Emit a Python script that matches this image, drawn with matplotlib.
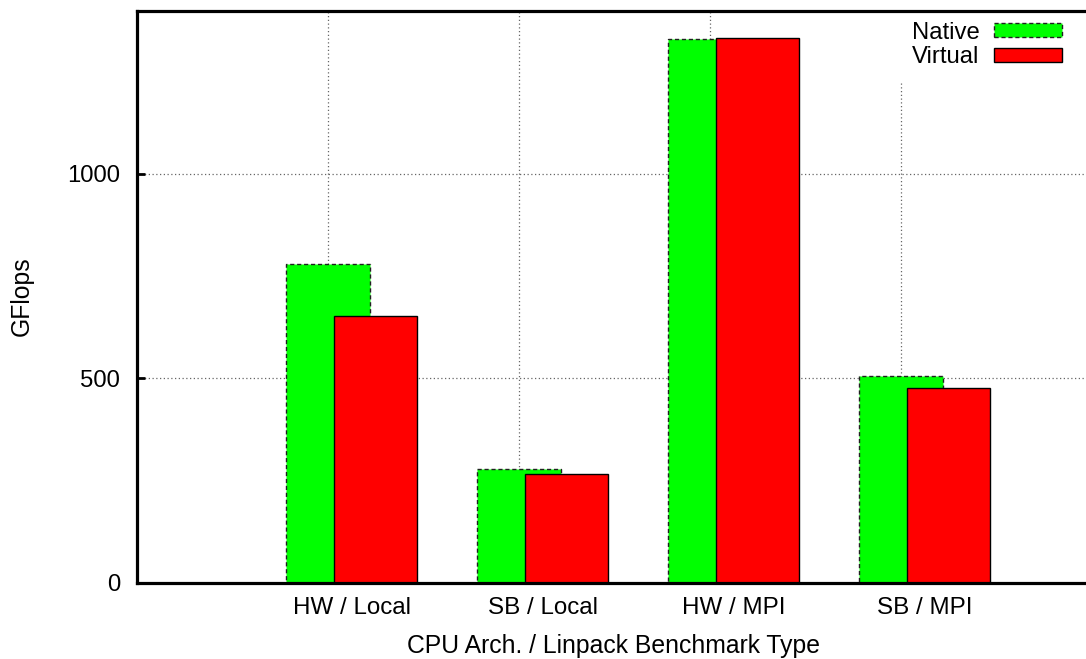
import matplotlib
matplotlib.use('Agg')
import matplotlib.pyplot as plt
import numpy as np

categories = ["HW / Local", "SB / Local", "HW / MPI", "SB / MPI"]
native = [779, 277, 1329, 505]
virtual = [653, 267, 1332, 475]
yticks = [0, 500, 1000]

plt.rcParams['font.family'] = ['Liberation Sans', 'DejaVu Sans']
W, H = 1086, 659
fig = plt.figure(figsize=(W / 100, H / 100), dpi=100)
ax = fig.add_axes([137 / W, 1 - 582.7 / H, 1 - 137 / W, (582.7 - 11) / H])

x = np.arange(len(categories))
w = 0.437
off = 0.125
ax.bar(x - off, native, w, color='#00ff00', edgecolor='#202020', linewidth=1.0,
       linestyle=(0, (3, 2)), label='Native', zorder=2)
ax.bar(x + off, virtual, w, color='#ff0000', edgecolor='black', linewidth=1.0,
       label='Virtual', zorder=3)

ax.set_xlim(-1.124, 3.844)
ax.set_ylim(0, 1398)
ax.set_yticks(yticks)
ax.set_xticks(x)
ax.set_xticklabels(categories)
ax.set_xticks(x - off, minor=True)
ax.tick_params(axis='x', which='both', length=0, labelsize=17.4, pad=10)
ax.tick_params(axis='y', direction='in', length=6, width=2, labelsize=17.2, pad=12)
ax.grid(axis='y', which='major', linestyle=(0, (1, 2)), color='0.4', lw=0.9)
ax.grid(axis='x', which='minor', linestyle=(0, (1, 2)), color='0.4', lw=0.9)
ax.grid(axis='x', which='major', visible=False)

for s in ['left', 'bottom', 'top']:
    ax.spines[s].set_linewidth(2.3)
    ax.spines[s].set_zorder(4)
ax.spines['right'].set_visible(False)

fig.text(22 / W, 1 - 296 / H, 'GFlops', rotation=90, ha='center', va='center', fontsize=17.8)
fig.text(613.3 / W, 1 - 652.7 / H, 'CPU Arch. / Linpack Benchmark Type', ha='center',
         va='baseline', fontsize=17.8)

leg = ax.legend(loc='upper right', bbox_to_anchor=((1062.7 + 9) / W, 1 - 12 / H),
                bbox_transform=fig.transFigure, markerfirst=False, fontsize=17.2,
                handlelength=2.85, handleheight=0.55, handletextpad=0.6,
                labelspacing=0.12, borderpad=0.4, borderaxespad=0,
                frameon=True, fancybox=False, framealpha=1, edgecolor='none',
                facecolor='white')
leg.get_frame().set_boxstyle('square', pad=0.12)
leg.set_zorder(3.5)

fig.savefig('out.png', dpi=100)
